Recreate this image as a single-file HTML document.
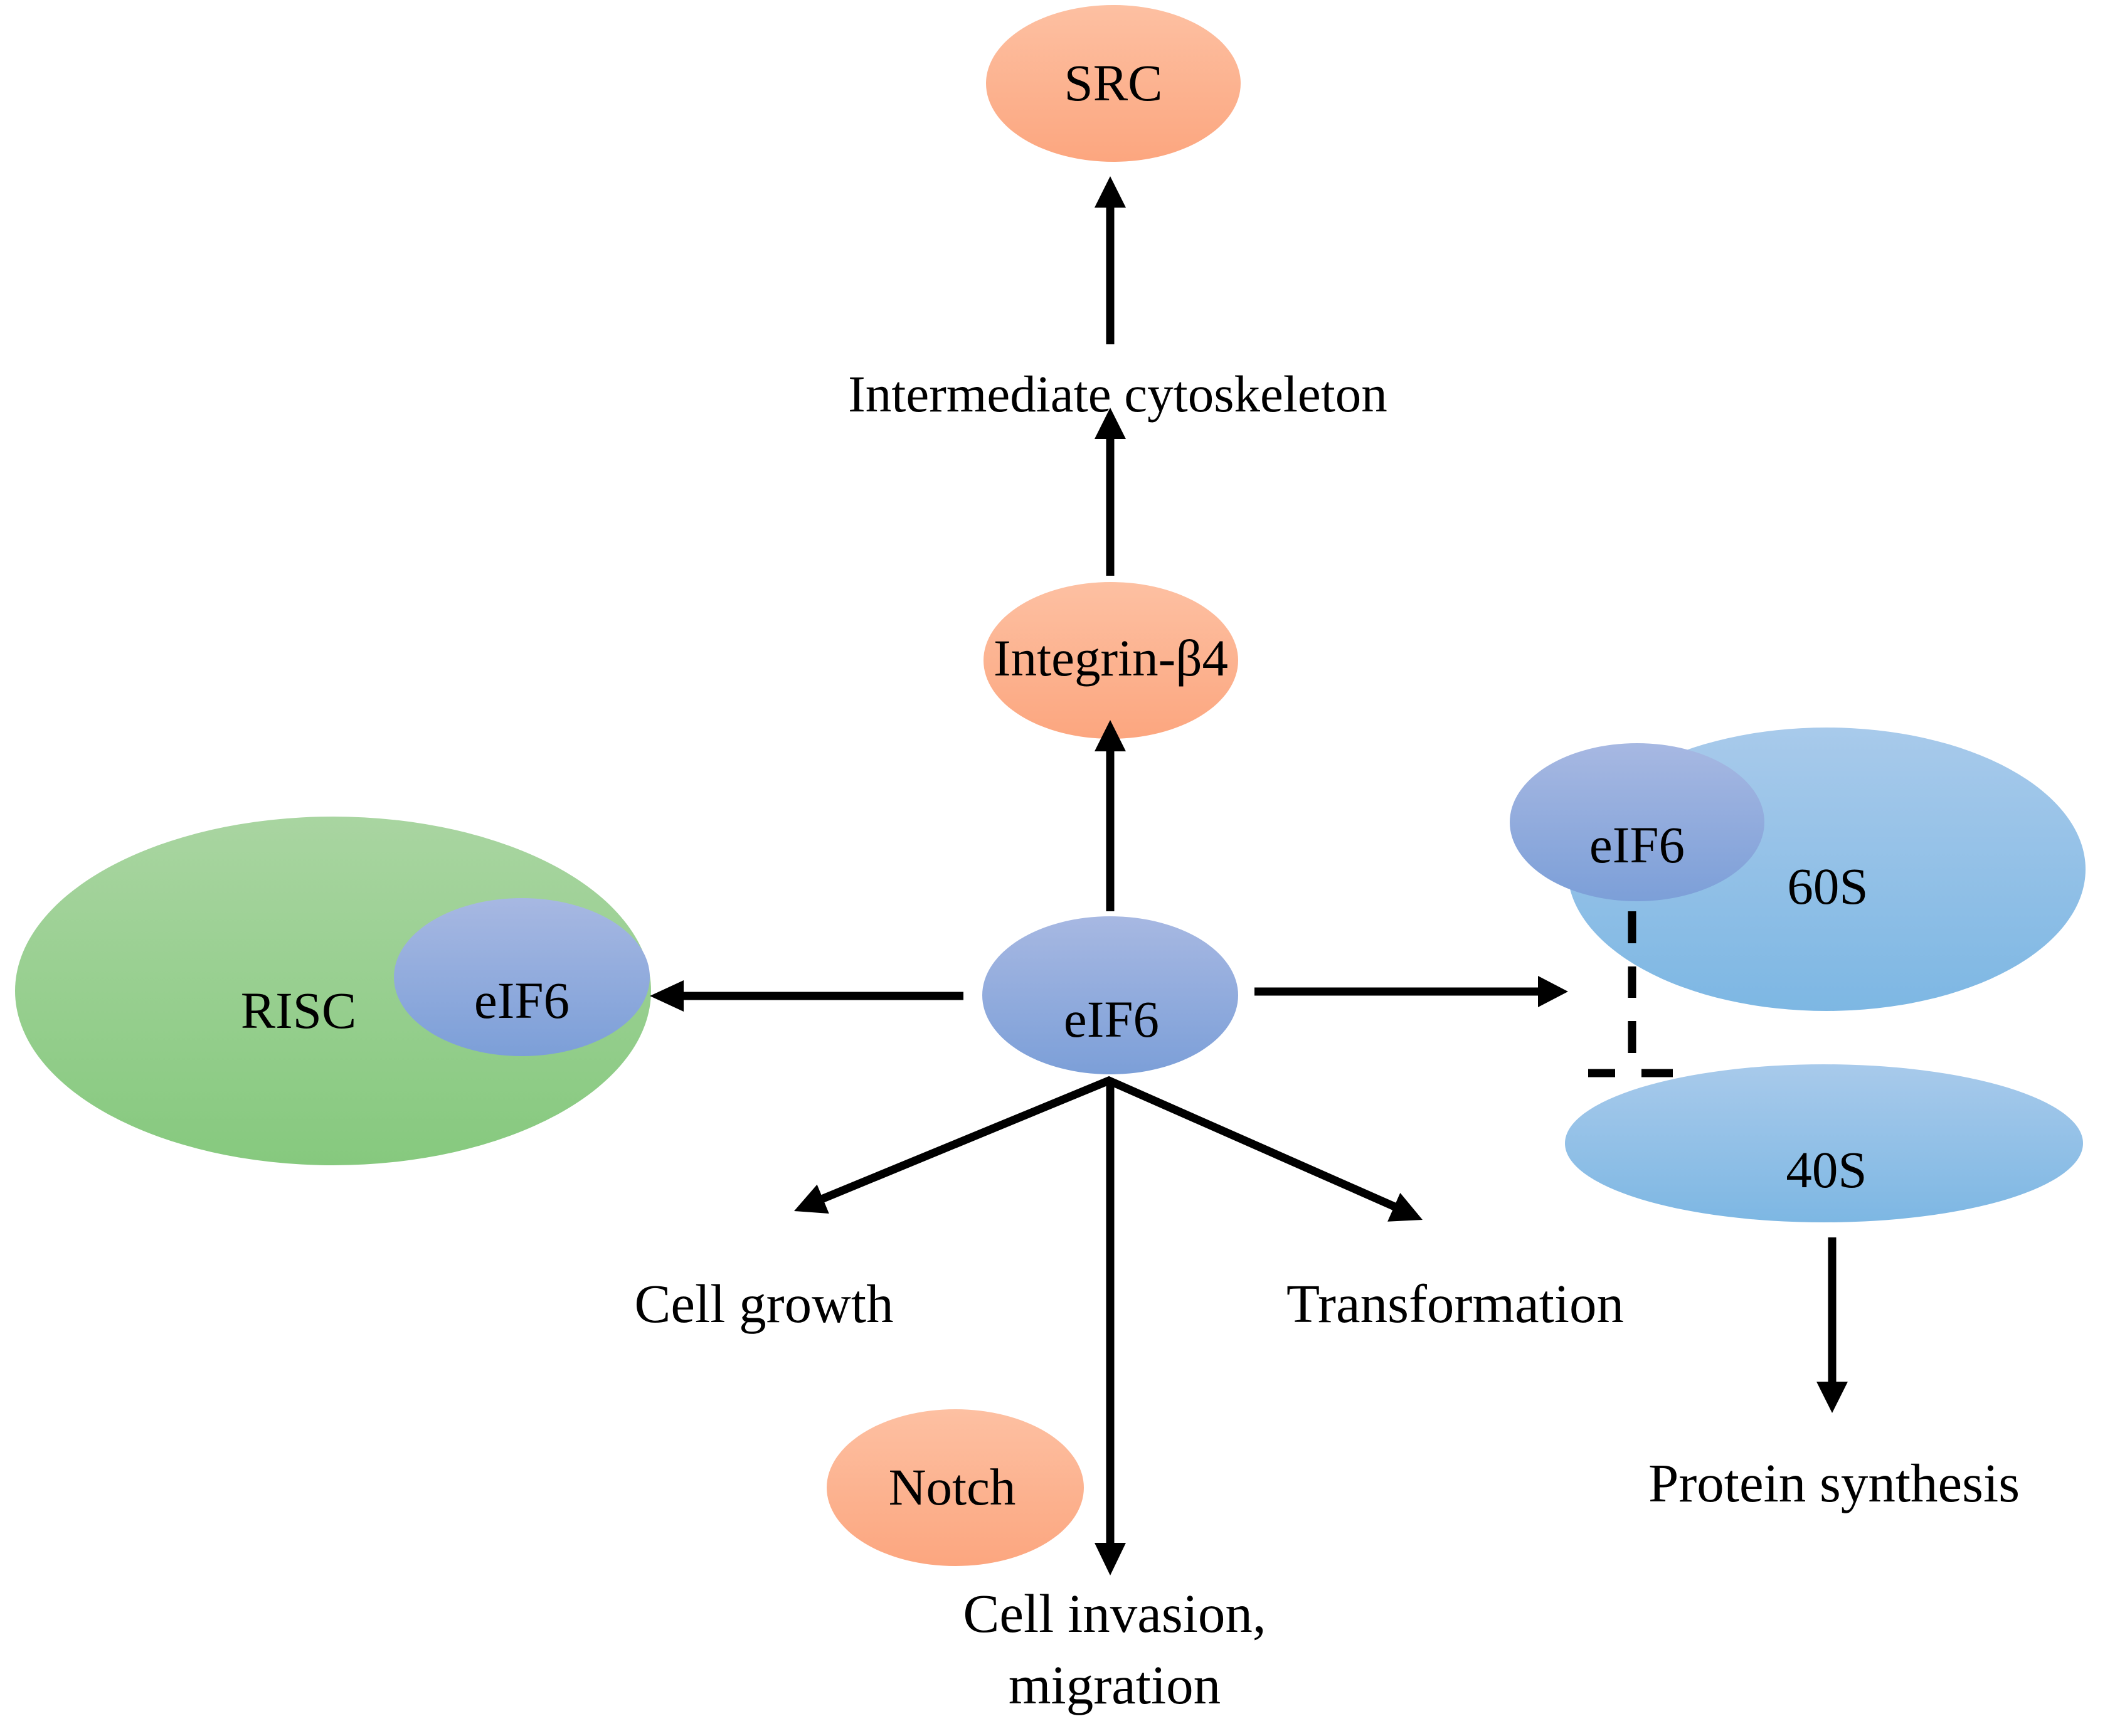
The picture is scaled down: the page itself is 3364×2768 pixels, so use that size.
<!DOCTYPE html>
<html><head><meta charset="utf-8"><style>
html,body{margin:0;padding:0;background:#fff;}
svg{display:block;}
text{font-family:"Liberation Serif",serif;fill:#000;}
</style></head><body>
<svg width="3364" height="2768" viewBox="0 0 3364 2768" xmlns="http://www.w3.org/2000/svg">
<defs>
<linearGradient id="or" x1="0" y1="0" x2="0" y2="1"><stop offset="0" stop-color="#fdc0a2"/><stop offset="1" stop-color="#fca67f"/></linearGradient>
<linearGradient id="gr" x1="0" y1="0" x2="0" y2="1"><stop offset="0" stop-color="#a9d5a1"/><stop offset="1" stop-color="#86c97e"/></linearGradient>
<linearGradient id="pu" x1="0" y1="0" x2="0" y2="1"><stop offset="0" stop-color="#a7b8e2"/><stop offset="1" stop-color="#7c9fd8"/></linearGradient>
<linearGradient id="bl" x1="0" y1="0" x2="0" y2="1"><stop offset="0" stop-color="#a8caeb"/><stop offset="1" stop-color="#7db7e3"/></linearGradient>
</defs>

<ellipse cx="1775" cy="133" rx="203" ry="125" fill="url(#or)"/>
<text x="1775" y="160" font-size="83" text-anchor="middle">SRC</text>
<ellipse cx="1771" cy="1053" rx="203" ry="125" fill="url(#or)"/>
<text x="1771" y="1077" font-size="83" text-anchor="middle">Integrin-β4</text>

<ellipse cx="531" cy="1580" rx="507" ry="278" fill="url(#gr)"/>
<text x="476" y="1639" font-size="83" text-anchor="middle">RISC</text>
<ellipse cx="832" cy="1558" rx="204" ry="126" fill="url(#pu)"/>
<text x="832" y="1623" font-size="83" text-anchor="middle">eIF6</text>

<ellipse cx="1770" cy="1587" rx="204" ry="126" fill="url(#pu)"/>
<text x="1772" y="1653" font-size="83" text-anchor="middle">eIF6</text>

<ellipse cx="2912" cy="1386" rx="413" ry="226" fill="url(#bl)"/>
<text x="2914" y="1441" font-size="83" text-anchor="middle">60S</text>
<ellipse cx="2610" cy="1311" rx="203" ry="126" fill="url(#pu)"/>
<text x="2610" y="1375" font-size="83" text-anchor="middle">eIF6</text>

<ellipse cx="2908" cy="1823" rx="413" ry="126" fill="url(#bl)"/>
<text x="2912" y="1893" font-size="83" text-anchor="middle">40S</text>

<ellipse cx="1523" cy="2372" rx="205" ry="125" fill="url(#or)"/>
<text x="1518" y="2399" font-size="83" text-anchor="middle">Notch</text>

<g stroke="#000" stroke-width="13" fill="none">
<line x1="1770" y1="549" x2="1770" y2="325"/>
<line x1="1770" y1="918" x2="1770" y2="695"/>
<line x1="1770" y1="1453" x2="1770" y2="1195"/>
<line x1="1536" y1="1588" x2="1085" y2="1588"/>
<line x1="2000" y1="1581" x2="2457" y2="1581"/>
<polyline points="1305,1914 1768,1723 2244,1933"/>
<line x1="1770" y1="1723" x2="1770" y2="2465"/>
<line x1="2921" y1="1973" x2="2921" y2="2205"/>
<line x1="2602" y1="1453" x2="2602" y2="1504"/>
<line x1="2602" y1="1541" x2="2602" y2="1591"/>
<line x1="2602" y1="1628" x2="2602" y2="1679"/>
<line x1="2532" y1="1711" x2="2575" y2="1711"/>
<line x1="2617" y1="1711" x2="2667" y2="1711"/>
</g>
<g fill="#000">
<polygon points="1770,281 1745,331 1795,331"/>
<polygon points="1770,650 1745,700 1795,700"/>
<polygon points="1770,1148 1745,1198 1795,1198"/>
<polygon points="1036,1588 1090,1563 1090,1613"/>
<polygon points="2500,1581 2452,1556 2452,1606"/>
<polygon points="1770,2512 1745,2460 1795,2460"/>
<polygon points="2921,2253 2896,2203 2946,2203"/>
<g transform="translate(1266,1931) rotate(-22.5)"><polygon points="0,0 50,-25 50,25"/></g>
<g transform="translate(2268,1945) rotate(-156.2)"><polygon points="0,0 50,-25 50,25"/></g>
</g>

<text x="1782" y="656" font-size="83" text-anchor="middle">Intermediate cytoskeleton</text>
<text x="1218" y="2108" font-size="87" text-anchor="middle">Cell growth</text>
<text x="2320" y="2108" font-size="87" text-anchor="middle">Transformation</text>
<text x="1777" y="2602" font-size="87" text-anchor="middle">Cell invasion,</text>
<text x="1777" y="2716" font-size="87" text-anchor="middle">migration</text>
<text x="2924" y="2394" font-size="87" text-anchor="middle">Protein synthesis</text>
</svg>
</body></html>
